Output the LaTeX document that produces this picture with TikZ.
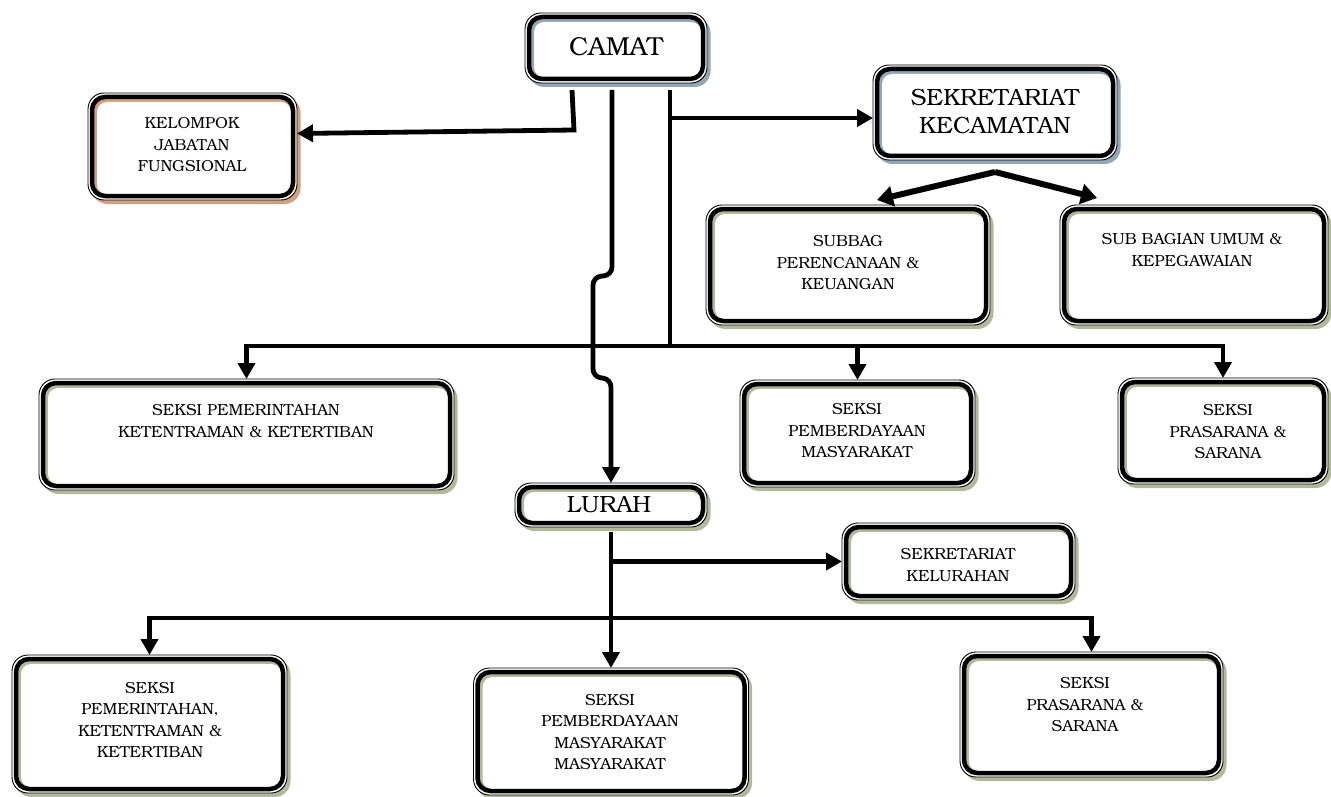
\documentclass[tikz,border=0pt]{standalone}
\usepackage{fontspec}
\IfFontExistsTF{TeX Gyre Bonum}{\setmainfont{TeX Gyre Bonum}}{\setmainfont{DejaVu Serif}}
\usetikzlibrary{arrows.meta,backgrounds,calc}
\definecolor{shblue}{RGB}{146,166,184}
\definecolor{shtan}{RGB}{210,160,126}
\definecolor{shgreen}{RGB}{176,186,154}
\tikzset{
  boxnode/.style={rectangle, inner sep=0pt, outer sep=0pt},
  lbl/.style={align=center, inner sep=0pt, font=\fontsize{16}{21.5}\selectfont},
  biglbl/.style={align=center, inner sep=0pt, font=\fontsize{23.5}{28}\selectfont},
  conn/.style={line width=4.8pt, line join=miter},
  arr/.style={-{Triangle[length=16pt,width=17pt]}},
  conn2/.style={line width=6pt},
  arr2/.style={-{Triangle[length=16pt,width=20pt]}},
}
\begin{document}
\begin{tikzpicture}[x=1pt,y=-1pt]
\useasboundingbox (0,0) rectangle (1331,797);

% boxes
\node[boxnode, minimum width=182pt, minimum height=70pt]  (camat)  at (616,48) {};
\node[boxnode, minimum width=209pt, minimum height=107pt] (kel)    at (192.5,146.5) {};
\node[boxnode, minimum width=244pt, minimum height=95pt]  (sekcam) at (995,112.5) {};
\node[boxnode, minimum width=284pt, minimum height=120pt] (subbag) at (848,265) {};
\node[boxnode, minimum width=268pt, minimum height=120pt] (subum)  at (1194,265) {};
\node[boxnode, minimum width=415pt, minimum height=111pt] (spem)   at (246.5,434.5) {};
\node[boxnode, minimum width=235pt, minimum height=107pt] (sber)   at (857.5,433.5) {};
\node[boxnode, minimum width=210pt, minimum height=106pt] (spra)   at (1223,431) {};
\node[boxnode, minimum width=192pt, minimum height=44pt]  (lurah)  at (611,505) {};
\node[boxnode, minimum width=233pt, minimum height=77pt]  (sekkel) at (958.5,561.5) {};
\node[boxnode, minimum width=275pt, minimum height=138pt] (bpem)   at (149.5,724) {};
\node[boxnode, minimum width=275pt, minimum height=127pt] (bber)   at (611,731.5) {};
\node[boxnode, minimum width=263pt, minimum height=125pt] (bpra)   at (1091.5,714.5) {};

% texts
\node[align=center, inner sep=0pt, font=\fontsize{26}{30}\selectfont] (camat-t) at (616,47) {CAMAT};
\node[lbl] (kel-t) at (192,145) {KELOMPOK\\JABATAN\\FUNGSIONAL};
\node[biglbl] (sekcam-t) at (995,111) {SEKRETARIAT\\KECAMATAN};
\node[lbl] (subbag-t) at (848,263) {SUBBAG\\PERENCANAAN \&\\KEUANGAN};
\node[lbl] (subum-t) at (1192,250) {SUB BAGIAN UMUM \&\\KEPEGAWAIAN};
\node[lbl] (spem-t) at (246,421) {SEKSI PEMERINTAHAN\\KETENTRAMAN \& KETERTIBAN};
\node[lbl] (sber-t) at (857,431) {SEKSI\\PEMBERDAYAAN\\MASYARAKAT};
\node[lbl] (spra-t) at (1228,432) {SEKSI\\PRASARANA \&\\SARANA};
\node[biglbl] (lurah-t) at (609,505) {LURAH};
\node[lbl] (sekkel-t) at (958,565) {SEKRETARIAT\\KELURAHAN};
\node[lbl] (bpem-t) at (150,720) {SEKSI\\PEMERINTAHAN,\\KETENTRAMAN \&\\KETERTIBAN};
\node[lbl] (bber-t) at (610,732) {SEKSI\\PEMBERDAYAAN\\MASYARAKAT\\MASYARAKAT};
\node[lbl] (bpra-t) at (1085,705) {SEKSI\\PRASARANA \&\\SARANA};

% page background and box decoration
\begin{pgfonlayer}{background}
\fill[white] (0,0) rectangle (1331,797);
\foreach \n/\c in {camat/shblue, kel/shtan, sekcam/shblue, subbag/shgreen, subum/shgreen,
  spem/shgreen, sber/shgreen, spra/shgreen, lurah/shgreen, sekkel/shgreen,
  bpem/shgreen, bber/shgreen, bpra/shgreen}{
  \fill[\c, rounded corners=16pt] ([xshift=3.5pt,yshift=-4pt]\n.north west) rectangle ([xshift=3.5pt,yshift=-4pt]\n.south east);
  \filldraw[fill=white, draw=black, line width=0.9pt, rounded corners=16pt] (\n.north west) rectangle (\n.south east);
  \fill[\c, rounded corners=12pt] ([xshift=5pt,yshift=-5pt]\n.north west) rectangle ([xshift=-5pt,yshift=5pt]\n.south east);
  \fill[white, rounded corners=10pt] ([xshift=9pt,yshift=-9pt]\n.north west) rectangle ([xshift=-6pt,yshift=6pt]\n.south east);
  \draw[line width=4.5pt, rounded corners=13pt] ([xshift=4pt,yshift=-4pt]\n.north west) rectangle ([xshift=-4pt,yshift=4pt]\n.south east);
}
\end{pgfonlayer}

% junction coordinates
\coordinate (j1) at (670,118);
\coordinate (bus1) at (670,346);
\coordinate (j2) at (611,561.5);
\coordinate (bus2) at (611,618);
\coordinate (apex) at ([yshift=-12pt]sekcam.south);

% CAMAT connectors
\draw[conn, arr] ([xshift=-44pt,yshift=-7pt]camat.south) -- ++(2,40) -- ([yshift=13pt]kel.east);
\draw[conn, arr, rounded corners=8pt] ([xshift=-4pt,yshift=-7pt]camat.south) -- (612,275) -- (593,277) -- (593,377) -- (611,379) -- (lurah.north);
\draw[conn] ([xshift=54pt,yshift=-7pt]camat.south) -- (bus1);
\draw[conn, arr] (j1) -- (j1 -| sekcam.west);
\draw[conn, arr] (bus1) -| (spem.north);
\draw[conn, arr] (bus1) -| (sber.north);
\draw[conn, arr] (bus1) -| (spra.north);

% SEKRETARIAT KECAMATAN
\draw[conn2, arr2] (apex) -- ([xshift=29pt,yshift=5pt]subbag.north);
\draw[conn2, arr2] (apex) -- ([xshift=-97pt,yshift=7pt]subum.north);

% LURAH connectors
\draw[conn, arr] ([yshift=-5pt]lurah.south) -- (bber.north);
\draw[conn, arr] (j2) -- (j2 -| sekkel.west);
\draw[conn, arr] (bus2) -| (bpem.north);
\draw[conn, arr] (bus2) -| (bpra.north);
\end{tikzpicture}
\end{document}
